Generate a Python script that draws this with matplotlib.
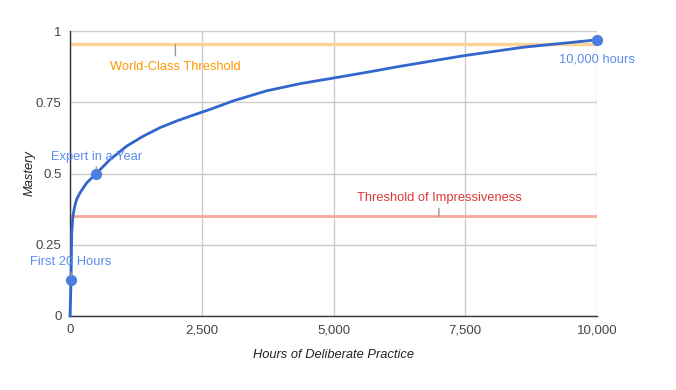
import matplotlib
matplotlib.use("Agg")
import matplotlib.pyplot as plt

plt.rcParams['font.family'] = ['Liberation Sans', 'DejaVu Sans']

# Curve data (hours, mastery)
hours = [0, 20, 32, 55, 90, 127, 190, 316, 500, 760, 1075, 1390, 1710, 2020,
         2340, 2660, 3100, 3730, 4360, 5000, 5630, 6260, 7460, 8600, 10000]
mastery = [0, 0.125, 0.29, 0.35, 0.385, 0.41, 0.432, 0.467, 0.5, 0.549, 0.596,
           0.631, 0.661, 0.684, 0.705, 0.725, 0.755, 0.79, 0.815, 0.835, 0.855,
           0.876, 0.913, 0.943, 0.969]

# Highlighted points
point_hours = [20, 500, 10000]
point_mastery = [0.125, 0.5, 0.969]
point_labels = ["First 20 Hours", "Expert in a Year", "10,000 hours"]

# Threshold lines
world_class = 0.953
impressive = 0.35
world_class_label = "World-Class Threshold"
world_class_anno_x = 2000
impressive_label = "Threshold of Impressiveness"
impressive_anno_x = 7000

x_ticks = [0, 2500, 5000, 7500, 10000]
x_ticklabels = ["0", "2,500", "5,000", "7,500", "10,000"]
y_ticks = [0, 0.25, 0.5, 0.75, 1]
y_ticklabels = ["0", "0.25", "0.5", "0.75", "1"]

FS = 9.3

fig = plt.figure(figsize=(6.76, 3.9), dpi=100)
ax = fig.add_axes([70/676, 74/390, 527/676, 285/390])
ax.set_xlim(0, 10000)
ax.set_ylim(0, 1)

ax.set_xticks(x_ticks)
ax.set_xticklabels(x_ticklabels)
ax.set_yticks(y_ticks)
ax.set_yticklabels(y_ticklabels)
ax.tick_params(length=0, labelsize=9.5, colors='#444444', pad=6)
ax.grid(True, color='#cccccc', linewidth=1)
ax.set_axisbelow(True)
for s in ['top', 'right']:
    ax.spines[s].set_visible(False)
ax.spines['left'].set_color('#333333')
ax.spines['bottom'].set_color('#333333')
ax.spines['left'].set_linewidth(1)
ax.spines['bottom'].set_linewidth(1)

# threshold lines
ax.axhline(world_class, color='#fdd39a', linewidth=2.5, zorder=2)
ax.axhline(impressive, color='#f5a997', linewidth=2, zorder=2)

# main curve
ax.plot(hours, mastery, color='#3366cc', linewidth=2, zorder=3, clip_on=False,
        solid_joinstyle='round')
ax.scatter(point_hours, point_mastery, s=50, color='#4a7fe0', zorder=4, clip_on=False)

stem = dict(arrowstyle='-', color='#999999', lw=1)

# annotations for thresholds
ax.annotate(world_class_label, xy=(world_class_anno_x, world_class),
            xytext=(0, -16), textcoords='offset points', ha='center', va='center',
            color='#ff9900', fontsize=FS, zorder=5,
            arrowprops=dict(stem, shrinkA=1.5, shrinkB=0))
ax.annotate(impressive_label, xy=(impressive_anno_x, impressive),
            xytext=(0, 13), textcoords='offset points', ha='center', va='center',
            color='#dc3939', fontsize=FS, zorder=5,
            arrowprops=dict(stem, shrinkA=1, shrinkB=0))

# point annotations
ax.annotate(point_labels[0], xy=(point_hours[0], point_mastery[0]),
            xytext=(0, 13), textcoords='offset points', ha='center', va='center',
            color='#5b8dee', fontsize=FS, zorder=5,
            arrowprops=dict(stem, shrinkA=1, shrinkB=3))
ax.annotate(point_labels[1], xy=(point_hours[1], point_mastery[1]),
            xytext=(0, 12), textcoords='offset points', ha='center', va='center',
            color='#5b8dee', fontsize=FS, zorder=5,
            arrowprops=dict(stem, shrinkA=1, shrinkB=3))
ax.annotate(point_labels[2], xy=(point_hours[2], point_mastery[2]),
            xytext=(0, -14), textcoords='offset points', ha='center', va='center',
            color='#5b8dee', fontsize=FS, zorder=5)

ax.set_xlabel("Hours of Deliberate Practice", style='italic', fontsize=FS,
              color='#222222', labelpad=9)
ax.set_ylabel("Mastery", style='italic', fontsize=FS, color='#222222', labelpad=0)

fig.savefig("out.png", dpi=100)
